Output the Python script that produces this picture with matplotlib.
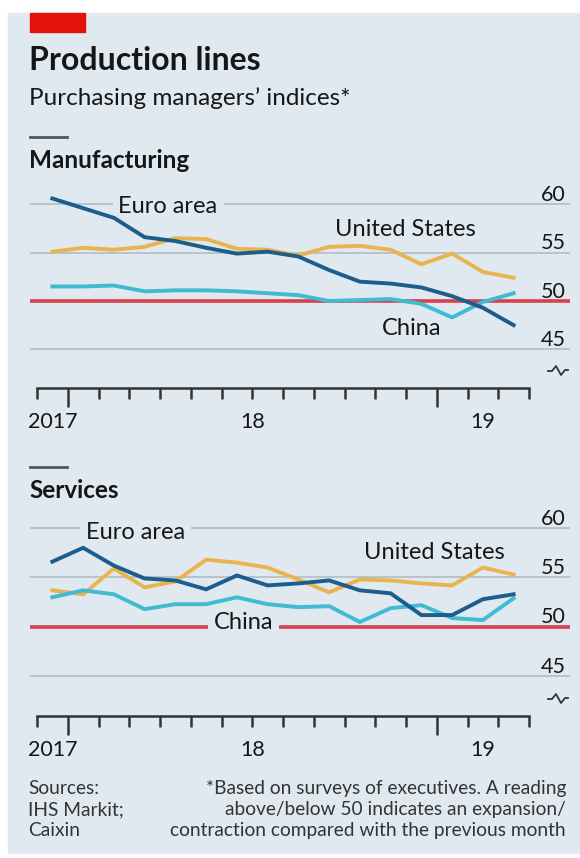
import numpy as np
import matplotlib.pyplot as plt
from matplotlib.patches import Rectangle
from matplotlib.lines import Line2D

plt.rcParams['font.family'] = ['Lato', 'DejaVu Sans']

# Monthly readings, Dec 2017 - Mar 2019
months = np.arange(16)
mfg_euro = [60.6, 59.6, 58.6, 56.6, 56.2, 55.5, 54.9, 55.1, 54.6, 53.2, 52.0, 51.8, 51.4, 50.5, 49.3, 47.5]
mfg_us = [55.1, 55.5, 55.3, 55.6, 56.5, 56.4, 55.4, 55.3, 54.7, 55.6, 55.7, 55.3, 53.8, 54.9, 53.0, 52.4]
mfg_china = [51.5, 51.5, 51.6, 51.0, 51.1, 51.1, 51.0, 50.8, 50.6, 50.0, 50.1, 50.2, 49.7, 48.3, 49.9, 50.8]
svc_euro = [56.6, 58.0, 56.2, 54.9, 54.7, 53.8, 55.2, 54.2, 54.4, 54.7, 53.7, 53.4, 51.2, 51.2, 52.8, 53.3]
svc_us = [53.7, 53.3, 55.9, 54.0, 54.6, 56.8, 56.5, 56.0, 54.8, 53.5, 54.8, 54.7, 54.4, 54.2, 56.0, 55.3]
svc_china = [53.0, 53.7, 53.3, 51.8, 52.3, 52.3, 53.0, 52.3, 52.0, 52.1, 50.5, 51.9, 52.2, 50.9, 50.7, 52.9]

yticks = [60, 55, 50, 45]
year_labels = ['2017', '18', '19']
year_pos = [0.5, 7, 14.5]

W, H = 580, 858
bg = '#e0e9f0'
c_euro = '#1c5d8c'
c_us = '#e9b44e'
c_china = '#3fbbd2'
c_red = '#d8404b'
txt = '#161616'

fig = plt.figure(figsize=(W / 100, H / 100), dpi=100, facecolor='white')

def fx(px):
    return px / W

def fy(py):
    return 1 - py / H

fig.patches.append(Rectangle((fx(8), fy(853)), 1 - fx(8), (853 - 13) / H,
                             transform=fig.transFigure, color=bg, zorder=-5))
fig.patches.append(Rectangle((fx(30), fy(32)), (85 - 30) / W, 19 / H,
                             transform=fig.transFigure, color='#e3120b', zorder=-4))

fig.text(fx(29), fy(70), 'Production lines', fontsize=23, fontweight='bold', color=txt, va='baseline')
fig.text(fx(29), fy(105), 'Purchasing managers\u2019 indices*', fontsize=17.5, color=txt, va='baseline')


def panel(top_grid, axis_y, head_y, name, series, labels):
    # gray header rule and section title
    fig.add_artist(Line2D([fx(30), fx(67)], [fy(head_y), fy(head_y)], color='#555555', lw=2))
    fig.text(fx(29), fy(head_y + 31), name, fontsize=17.5, fontweight='bold', color=txt, va='baseline')

    ppu = (axis_y - top_grid) / (60 - 41.0)
    top_px = top_grid - 24
    ax = fig.add_axes([fx(30), fy(axis_y), 540 / W, (axis_y - top_px) / H])
    ax.set_facecolor('none')
    ax.set_xlim((30 - 37) / 30.75, (570 - 37) / 30.75)
    ax.set_ylim(41.0, 60 + 24 / ppu)

    for v in yticks:
        if v == 50:
            ax.axhline(v, color=c_red, lw=2.6, zorder=2)
        else:
            ax.axhline(v, color='#b5c0c8', lw=1.3, zorder=1)
        ax.annotate(str(v), xy=(1, v), xycoords=('axes fraction', 'data'),
                    xytext=(-3, 2.5), textcoords='offset points', ha='right', va='baseline',
                    fontsize=15.5, color=txt)

    for (vals, col) in series:
        ax.plot(months + 0.5, vals, color=col, lw=2.8, solid_joinstyle='miter', zorder=4)

    for (label, x, y, boxed) in labels:
        kw = dict(fontsize=17, color=txt, ha='left', va='center', zorder=3)
        if boxed:
            kw['bbox'] = dict(boxstyle='square,pad=0.25', fc=bg, ec='none')
        ax.text(x, y, label, **kw)

    for s in ['top', 'left', 'right']:
        ax.spines[s].set_visible(False)
    ax.spines['bottom'].set_bounds(0, 16)
    ax.spines['bottom'].set_color('#333333')
    ax.spines['bottom'].set_linewidth(1.8)
    ax.set_yticks([])
    ax.set_xticks(np.arange(17))
    ax.tick_params(axis='x', length=8, width=1.8, color='#333333', labelbottom=False, direction='out')
    ticks = ax.xaxis.get_major_ticks()
    for i in (1, 13):
        ticks[i].tick1line.set_markersize(13.5)
    for lab, xp in zip(year_labels, year_pos):
        ax.annotate(lab, xy=(xp, 0), xycoords=('data', 'axes fraction'),
                    xytext=(0, -24.5), textcoords='offset points', ha='center', va='center',
                    fontsize=15.5, color=txt)

    # axis break mark
    bx = [548, 552, 556, 561, 565, 568]
    by = [axis_y - 17, axis_y - 17, axis_y - 22, axis_y - 13, axis_y - 18, axis_y - 18]
    fig.add_artist(Line2D([fx(p) for p in bx], [fy(p) for p in by], color='#333333', lw=1.3))
    return ax


panel(204.3, 388, 137, 'Manufacturing',
      [(mfg_us, c_us), (mfg_china, c_china), (mfg_euro, c_euro)],
      [('Euro area', 2.65, 59.75, True), ('United States', 9.7, 57.35, False),
       ('China', 11.2, 47.2, False)])

panel(528, 716, 467, 'Services',
      [(svc_us, c_us), (svc_china, c_china), (svc_euro, c_euro)],
      [('Euro area', 1.6, 59.5, True), ('United States', 10.65, 57.55, False),
       ('China', 5.75, 50.5, True)])

fs = 13.8
fig.text(fx(28), fy(794), 'Sources:', fontsize=fs, color='#333333', va='baseline')
fig.text(fx(28), fy(815), 'IHS Markit;', fontsize=fs, color='#333333', va='baseline')
fig.text(fx(28), fy(836), 'Caixin', fontsize=fs, color='#333333', va='baseline')
fig.text(fx(566), fy(794), '*Based on surveys of executives. A reading', fontsize=fs, color='#333333', va='baseline', ha='right')
fig.text(fx(566), fy(815), 'above/below 50 indicates an expansion/', fontsize=fs, color='#333333', va='baseline', ha='right')
fig.text(fx(566), fy(836), 'contraction compared with the previous month', fontsize=fs, color='#333333', va='baseline', ha='right')

fig.savefig('out.png', dpi=100, facecolor='white')
